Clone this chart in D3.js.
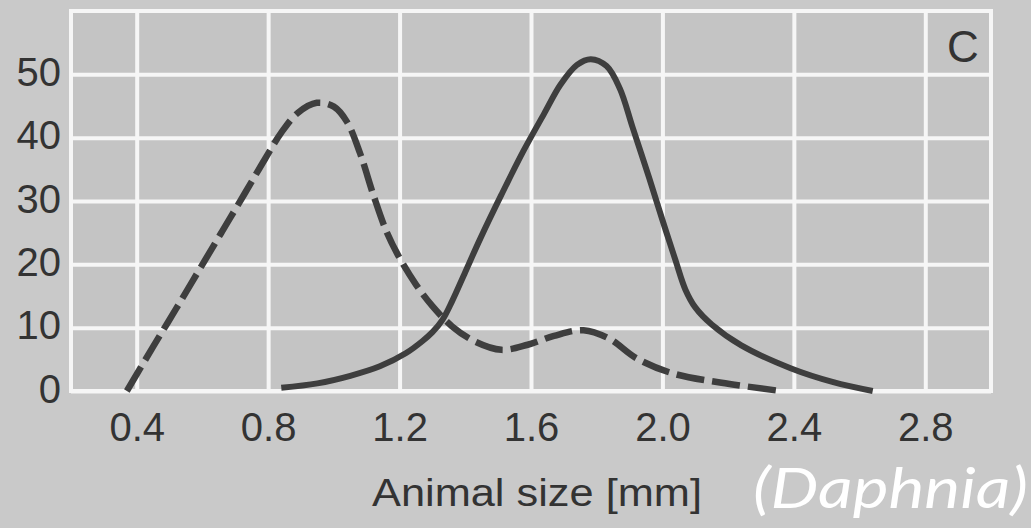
<!DOCTYPE html>
<html>
<head>
<meta charset="utf-8">
<script src="https://cdn.jsdelivr.net/npm/d3@7"></script>
<style>
  html, body { margin: 0; padding: 0; background: #c9c9c9; }
  svg { display: block; }
  text { font-family: "Liberation Sans", Arial, sans-serif; fill: #333333; }
</style>
</head>
<body>
<svg id="chart" width="1031" height="528"></svg>
<script>
// size distribution of Daphnia, two samples (dashed / solid)
var dashedSize = [0.37, 0.45, 0.52, 0.59, 0.66, 0.73, 0.79, 0.84, 0.89, 0.948, 1.00, 1.04, 1.08, 1.12, 1.16, 1.20, 1.25, 1.30, 1.36, 1.43, 1.51, 1.59, 1.67, 1.76, 1.84, 1.92, 2.03, 2.18, 2.36];
var dashedFreq = [0, 7, 13, 19.1, 25.2, 31.3, 36.6, 40.8, 43.9, 45.5, 44.9, 42.5, 37.5, 31, 25.2, 21, 16.8, 13.4, 10.2, 7.8, 6.5, 7.3, 8.7, 9.6, 8.2, 5.2, 2.8, 1.3, 0];

var solidSize = [0.84, 0.95, 1.05, 1.14, 1.22, 1.27, 1.30, 1.33, 1.36, 1.40, 1.446, 1.51, 1.577, 1.64, 1.69, 1.74, 1.782, 1.83, 1.87, 1.91, 1.96, 2.00, 2.04, 2.07, 2.10, 2.15, 2.24, 2.39, 2.52, 2.64];
var solidFreq = [0.5, 1.2, 2.4, 3.9, 6.0, 7.9, 9.3, 11.2, 14.2, 18.8, 24.1, 31, 37.9, 43.8, 48.4, 51.5, 52.4, 51.3, 47.8, 41.5, 33.6, 27, 20.6, 16, 13.2, 10.5, 7.2, 3.6, 1.4, 0];

var xTicks = [0.4, 0.8, 1.2, 1.6, 2.0, 2.4, 2.8];
var yTicks = [0, 10, 20, 30, 40, 50];
var xLabel = "Animal size [mm]";
var panelLabel = "C";
var taxonLabel = "(Daphnia)";

var svg = d3.select("#chart");

var x = d3.scaleLinear().domain([0.2, 3.0]).range([71, 991]);
var y = d3.scaleLinear().domain([0, 60]).range([391, 11]);

// plot area
svg.append("rect")
    .attr("x", x(0.2)).attr("y", y(60))
    .attr("width", x(3.0) - x(0.2)).attr("height", y(0) - y(60))
    .attr("fill", "#c4c4c4")
    .attr("stroke", "#f6f6f6").attr("stroke-width", 4);

// grid via axes
var gx = svg.append("g")
    .attr("transform", "translate(0," + y(0) + ")")
    .call(d3.axisBottom(x).tickValues(xTicks).tickSize(-(y(0) - y(60))).tickPadding(22)
        .tickFormat(d3.format(".1f")));

var gy = svg.append("g")
    .attr("transform", "translate(" + x(0.2) + ",0)")
    .call(d3.axisLeft(y).tickValues(yTicks).tickSize(-(x(3.0) - x(0.2))).tickPadding(10));

[gx, gy].forEach(function(g) {
    g.select(".domain").remove();
    g.selectAll(".tick line").attr("stroke", "#f6f6f6").attr("stroke-width", 4);
    g.selectAll(".tick text")
        .attr("fill", "#333333")
        .style("font-size", "40px")
        .style("font-family", "'Liberation Sans', Arial, sans-serif");
});
gy.selectAll(".tick text").attr("dy", "0.28em");
gx.selectAll(".tick text").attr("dy", "0.71em");

// bottom border over the zero gridline
svg.append("line")
    .attr("x1", x(0.2)).attr("x2", x(3.0))
    .attr("y1", y(0)).attr("y2", y(0))
    .attr("stroke", "#f6f6f6").attr("stroke-width", 4);

var line = d3.line()
    .x(function(d) { return x(d[0]); })
    .y(function(d) { return y(d[1]); })
    .curve(d3.curveCatmullRom.alpha(0.5));

var dashed = d3.zip(dashedSize, dashedFreq);
var solid = d3.zip(solidSize, solidFreq);

svg.append("path")
    .datum(solid)
    .attr("d", line)
    .attr("fill", "none")
    .attr("stroke", "#3e3e3e")
    .attr("stroke-width", 6)
    .attr("stroke-linejoin", "round");

svg.append("path")
    .datum(dashed)
    .attr("d", line)
    .attr("fill", "none")
    .attr("stroke", "#3e3e3e")
    .attr("stroke-width", 6.5)
    .attr("stroke-dasharray", "28,8");

svg.append("text")
    .attr("x", 963).attr("y", 62)
    .attr("text-anchor", "middle")
    .style("font-size", "44px")
    .text(panelLabel);

svg.append("text")
    .attr("x", 537).attr("y", 506)
    .attr("text-anchor", "middle")
    .style("font-size", "38px")
    .attr("textLength", 330)
    .attr("lengthAdjust", "spacingAndGlyphs")
    .text(xLabel);

svg.append("text")
    .attr("x", 753).attr("y", 508)
    .style("font-family", "Lato, 'DejaVu Sans', sans-serif")
    .style("font-style", "italic")
    .style("font-size", "56px")
    .style("fill", "#ffffff")
    .attr("textLength", 275)
    .attr("lengthAdjust", "spacingAndGlyphs")
    .text(taxonLabel);
</script>
</body>
</html>
